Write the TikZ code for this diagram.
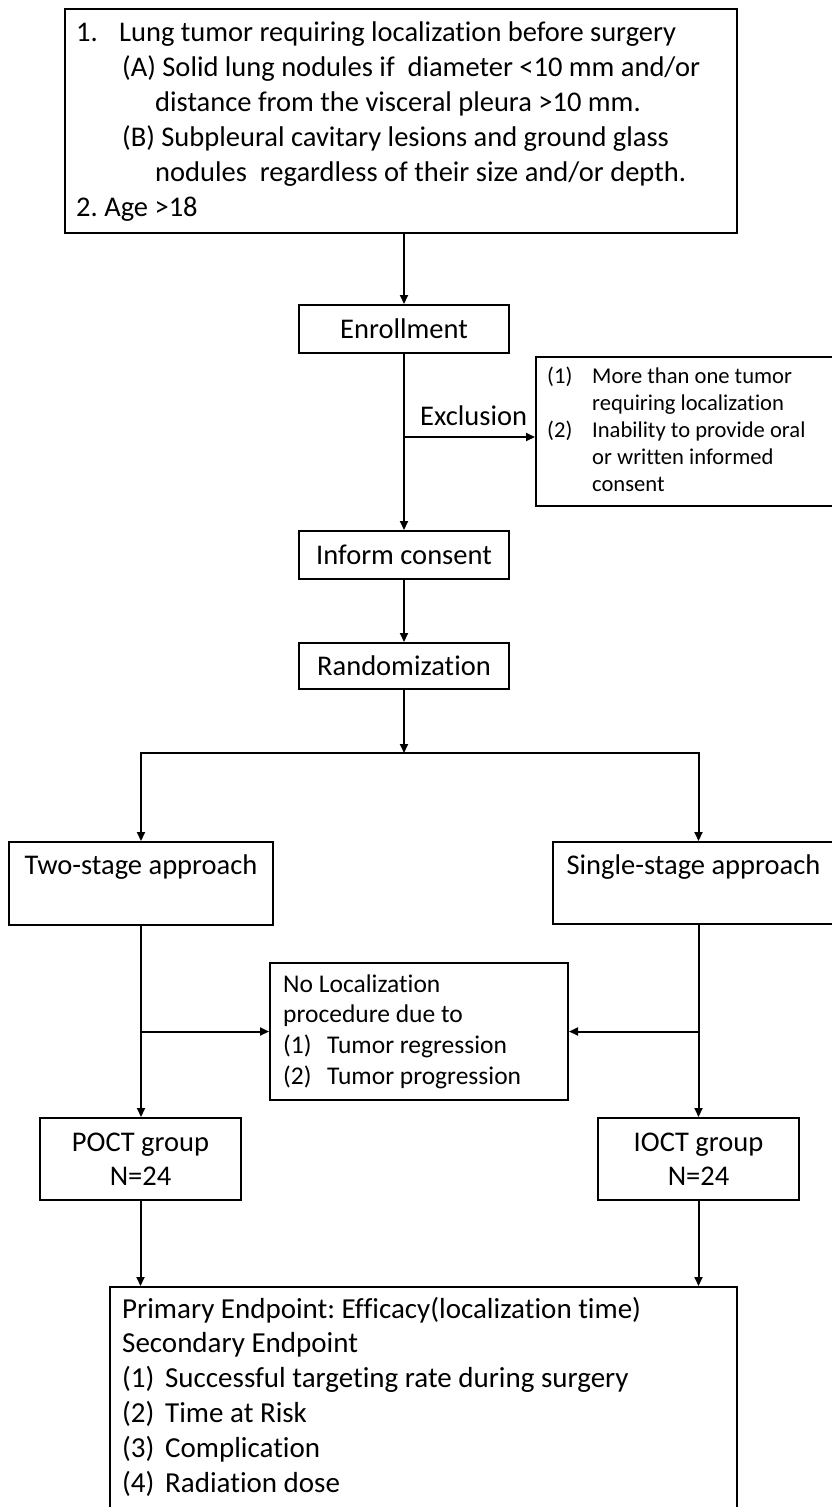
\documentclass[tikz,border=0pt]{standalone}
\usepackage{fontspec}
\setmainfont{Carlito}[Ligatures={NoCommon}]
\usetikzlibrary{arrows.meta}
\frenchspacing
\begin{document}
\begin{tikzpicture}[x=1pt,y=-1pt,
  frame/.style={draw, line width=2pt, inner sep=0pt, anchor=north west},
  conn/.style={line width=2pt, -{Triangle[length=9pt,width=8pt]}},
  big/.style={font=\fontsize{28.5}{35}\selectfont},
  txt/.style={inner sep=0pt, anchor=north west, align=left},
]
\useasboundingbox (0,0) rectangle (832,1507);
\fill[white] (0,0) rectangle (832,1507);

% boxes
\node[frame, minimum width=672pt, minimum height=224pt] (top) at (64,8) {};
\node[frame, big, minimum width=210pt, minimum height=48pt] (enroll) at (298,304) {Enrollment};
\node[frame, minimum width=298pt, minimum height=149pt] (excl) at (535,356) {};
\node[frame, big, minimum width=210pt, minimum height=48pt] (inform) at (298,530) {Inform consent};
\node[frame, big, minimum width=210pt, minimum height=46pt] (random) at (298,642) {Randomization};
\node[frame, minimum width=264pt, minimum height=83pt] (two) at (8,841) {};
\node[frame, minimum width=281pt, minimum height=82pt] (single) at (552,841) {};
\node[frame, minimum width=298pt, minimum height=137pt] (noloc) at (269,962) {};
\node[frame, align=center, font=\fontsize{28.5}{34}\selectfont, minimum width=201pt, minimum height=82pt] (poct) at (39,1117) {POCT group\\N=24};
\node[frame, align=center, font=\fontsize{28.5}{34}\selectfont, minimum width=201pt, minimum height=82pt] (ioct) at (597,1117) {IOCT group\\N=24};
\node[frame, minimum width=627pt, minimum height=224pt] (bottom) at (109,1286) {};

% texts
\node[txt, big] (toptext) at (76,16.5) {\strut\makebox[43pt][l]{1.}Lung tumor requiring localization before surgery\\
\hspace*{46pt}(A) Solid lung nodules if\ \ diameter <10 mm and/or\\
\hspace*{79pt}distance from the visceral pleura >10 mm.\\
\hspace*{46pt}(B) Subpleural cavitary lesions and ground glass\\
\hspace*{79pt}nodules\ \ regardless of their size and/or depth.\\
2. Age >18};

\node[txt, font=\fontsize{22.6}{27}\selectfont] (excltext) at (547,364) {\strut\makebox[45pt][l]{(1)}More than one tumor\\
\hspace*{45pt}requiring localization\\
\makebox[45pt][l]{(2)}Inability to provide oral\\
\hspace*{45pt}or written informed\\
\hspace*{45pt}consent};

\node[inner sep=0pt, anchor=base west, big] (excllabel) at (420,425) {Exclusion};

\node[big, inner sep=0pt, anchor=base] (twotext) at ([yshift=-33pt]two.north) {Two-stage approach};
\node[big, inner sep=0pt, anchor=base] (singletext) at ([yshift=-33pt]single.north) {Single-stage approach};

\node[txt, font=\fontsize{25.5}{30.7}\selectfont] (noloctext) at (283,970.5) {\strut No Localization\\
procedure due to\\
\makebox[44pt][l]{(1)}Tumor regression\\
\makebox[44pt][l]{(2)}Tumor progression};

\node[txt, font=\fontsize{29}{34.8}\selectfont] (bottomtext) at (122,1293.6) {\strut Primary Endpoint: Efficacy(localization time)\\
Secondary Endpoint\\
\makebox[43pt][l]{(1)}Successful targeting rate during surgery\\
\makebox[43pt][l]{(2)}Time at Risk\\
\makebox[43pt][l]{(3)}Complication\\
\makebox[43pt][l]{(4)}Radiation dose};

% connectors
\draw[conn] (enroll.north |- top.south) -- (enroll.north);
\draw[conn] (enroll.south) -- (enroll.south |- inform.north);
\coordinate (ej) at (enroll.south |- 0,437);
\draw[conn] (ej) -- (ej -| excl.west);
\draw[conn] (inform.south) -- (inform.south |- random.north);
\coordinate (split) at (random.south |- 0,753);
\draw[conn] (random.south) -- (split);
\draw[conn] (split) -| (two.north);
\draw[conn] (split) -| (ioct.north |- single.north);
\draw[conn] (two.south) -- (two.south |- poct.north);
\draw[conn] (two.south |- noloc.west) -- (noloc.west);
\draw[conn] (ioct.north |- single.south) -- (ioct.north);
\draw[conn] (ioct.north |- noloc.east) -- (noloc.east);
\draw[conn] (poct.south) -- (poct.south |- bottom.north);
\draw[conn] (ioct.south) -- (ioct.south |- bottom.north);
\end{tikzpicture}
\end{document}
